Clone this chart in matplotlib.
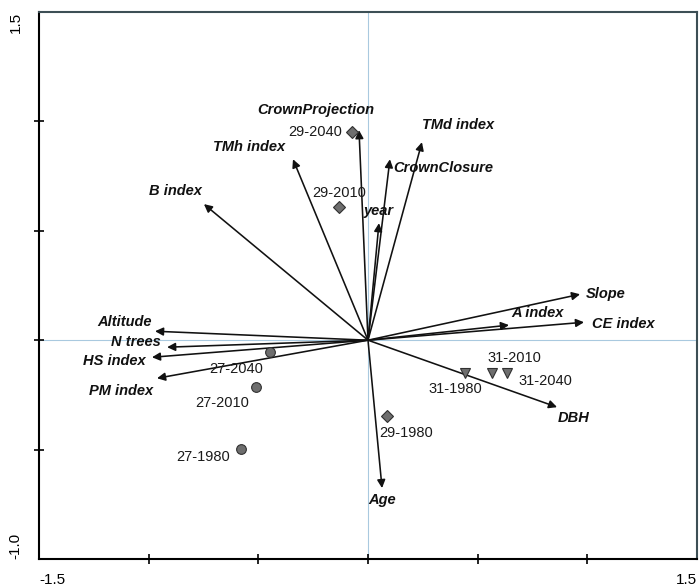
import matplotlib
matplotlib.use("Agg")
import matplotlib.pyplot as plt

plt.rcParams['font.family'] = ['Liberation Sans', 'DejaVu Sans']

# environmental variables (arrow tips)
var_names = ["CrownProjection", "TMh index", "B index", "CrownClosure", "TMd index",
             "year", "Slope", "A index", "CE index", "DBH", "Age",
             "Altitude", "N trees", "HS index", "PM index"]
var_x = [-0.041, -0.342, -0.748, 0.100, 0.246, 0.050, 0.967, 0.643, 0.985, 0.862, 0.064,
         -0.971, -0.916, -0.985, -0.962]
var_y = [0.960, 0.827, 0.622, 0.827, 0.905, 0.535, 0.210, 0.069, 0.082, -0.306, -0.676,
         0.041, -0.032, -0.078, -0.174]

# samples
plot_27 = ["27-2040", "27-2010", "27-1980"]
plot_27_x = [-0.447, -0.511, -0.579]
plot_27_y = [-0.055, -0.215, -0.498]

plot_29 = ["29-2040", "29-2010", "29-1980"]
plot_29_x = [-0.073, -0.132, 0.087]
plot_29_y = [0.951, 0.608, -0.347]

plot_31 = ["31-1980", "31-2010", "31-2040"]
plot_31_x = [0.442, 0.565, 0.634]
plot_31_y = [-0.151, -0.151, -0.151]

# label placement (pixel offsets from tip / point, alignment)
var_lbl = {
    "CrownProjection": (-43, 20, "center"), "TMh index": (-8, 12, "right"),
    "B index": (-2, 13, "right"), "CrownClosure": (3, -9, "left"),
    "TMd index": (0, 17, "left"), "year": (0, 12, "center"),
    "Slope": (6, 0, "left"), "A index": (2, 12, "left"),
    "CE index": (8, -2, "left"), "DBH": (1, -11, "left"), "Age": (0, -12, "center"),
    "Altitude": (-3, 9, "right"), "N trees": (-6, 5, "right"),
    "HS index": (-6, -4, "right"), "PM index": (-4, -13, "right"),
}
smp_lbl = {
    "29-2040": (-10, 0, "right"), "29-2010": (0, 14, "center"), "29-1980": (19, -17, "center"),
    "27-2040": (-7, -17, "right"), "27-2010": (-7, -16, "right"), "27-1980": (-11, -8, "right"),
    "31-1980": (-10, -16, "center"), "31-2010": (-4, 15, "left"), "31-2040": (11, -8, "left"),
}

fig = plt.figure(figsize=(6.99, 5.88), dpi=100)
ax = fig.add_axes([39 / 699, 1 - 559 / 588, 658 / 699, 547 / 588])
ax.set_xlim(-1.5, 1.5)
ax.set_ylim(-1.0, 1.5)

ax.axhline(0, color="#a9c9df", lw=0.8, zorder=0)
ax.axvline(0, color="#a9c9df", lw=0.8, zorder=0)

for name, x, y in zip(var_names, var_x, var_y):
    ax.annotate("", xy=(x, y), xytext=(0, 0),
                arrowprops=dict(arrowstyle="-|>", color="#111111", lw=1.15,
                                mutation_scale=12, shrinkA=0, shrinkB=0))
    dx, dy, ha = var_lbl[name]
    ax.annotate(name, xy=(x, y), xytext=(dx, dy), textcoords="offset pixels",
                ha=ha, va="center", fontsize=10.5, fontweight="bold", fontstyle="italic",
                color="#111111")

for names, xs, ys, mk in [(plot_27, plot_27_x, plot_27_y, "o"),
                          (plot_29, plot_29_x, plot_29_y, "D"),
                          (plot_31, plot_31_x, plot_31_y, "v")]:
    ax.plot(xs, ys, linestyle="none", marker=mk, ms=7 if mk != "D" else 6,
            mfc="#6e6e6e", mec="#303030", mew=0.8, zorder=3)
    for name, x, y in zip(names, xs, ys):
        dx, dy, ha = smp_lbl[name]
        ax.annotate(name, xy=(x, y), xytext=(dx, dy), textcoords="offset pixels",
                    ha=ha, va="center", fontsize=10.5, color="#1a1a1a")

ax.set_xticks([-1.0, -0.5, 0, 0.5, 1.0])
ax.set_yticks([-0.5, 0, 0.5, 1.0])
ax.set_xticklabels([])
ax.set_yticklabels([])
ax.tick_params(direction="inout", length=7, width=1.2, color="black")

for s in ["left", "bottom"]:
    ax.spines[s].set_linewidth(1.5)
    ax.spines[s].set_color("black")
for s in ["top", "right"]:
    ax.spines[s].set_linewidth(1.5)
    ax.spines[s].set_color("#3d4f55")

# end labels
ax.text(0, -0.025, "-1.5", transform=ax.transAxes, ha="left", va="top", fontsize=11)
ax.text(1, -0.025, "1.5", transform=ax.transAxes, ha="right", va="top", fontsize=11)
ax.text(-0.025, 1, "1.5", transform=ax.transAxes, ha="right", va="top", rotation=90, fontsize=11)
ax.text(-0.025, 0, "-1.0", transform=ax.transAxes, ha="right", va="bottom", rotation=90, fontsize=11)

fig.savefig("out.png", dpi=100)
